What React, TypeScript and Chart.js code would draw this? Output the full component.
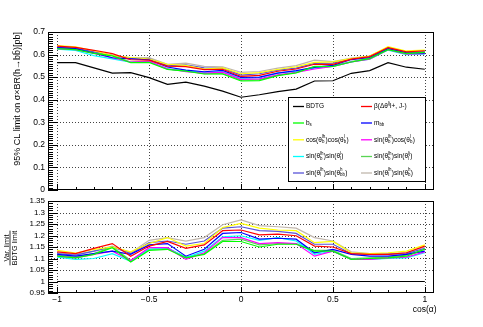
import React, { useEffect, useRef } from "react";
import { Chart, registerables } from "chart.js";
Chart.register(...registerables);

const FONT = '"Liberation Sans", Arial, sans-serif';

const cosAlpha = [-1, -0.9, -0.8, -0.7, -0.6, -0.5, -0.4, -0.3, -0.2, -0.1, 0, 0.1, 0.2, 0.3, 0.4, 0.5, 0.6, 0.7, 0.8, 0.9, 1];

// Top panel: 95% CL limit [pb]
const limitBDTG = [0.564, 0.564, 0.541, 0.518, 0.520, 0.498, 0.468, 0.478, 0.460, 0.438, 0.411, 0.422, 0.436, 0.447, 0.483, 0.484, 0.517, 0.529, 0.564, 0.544, 0.535];
const limitBeta = [0.637, 0.632, 0.619, 0.604, 0.577, 0.575, 0.549, 0.547, 0.533, 0.535, 0.503, 0.508, 0.526, 0.536, 0.557, 0.557, 0.580, 0.591, 0.631, 0.612, 0.617];
const limitBs = [0.626, 0.622, 0.605, 0.594, 0.564, 0.565, 0.534, 0.527, 0.514, 0.514, 0.483, 0.485, 0.507, 0.519, 0.547, 0.548, 0.567, 0.582, 0.622, 0.604, 0.610];
const limitMbb = [0.631, 0.626, 0.607, 0.586, 0.581, 0.577, 0.545, 0.531, 0.524, 0.530, 0.499, 0.500, 0.518, 0.529, 0.543, 0.552, 0.578, 0.587, 0.626, 0.608, 0.606];
const limitCosCos = [0.640, 0.634, 0.617, 0.596, 0.587, 0.580, 0.557, 0.552, 0.536, 0.541, 0.515, 0.520, 0.534, 0.546, 0.565, 0.568, 0.582, 0.593, 0.635, 0.616, 0.620];
const limitSinCos = [0.626, 0.622, 0.605, 0.586, 0.567, 0.571, 0.537, 0.524, 0.518, 0.522, 0.490, 0.492, 0.510, 0.521, 0.536, 0.548, 0.567, 0.580, 0.622, 0.602, 0.604];
const limitSinSinA = [0.624, 0.618, 0.595, 0.581, 0.566, 0.568, 0.537, 0.527, 0.521, 0.523, 0.493, 0.498, 0.519, 0.526, 0.540, 0.548, 0.567, 0.580, 0.620, 0.600, 0.602];
const limitSinSinB = [0.629, 0.624, 0.607, 0.596, 0.567, 0.568, 0.535, 0.529, 0.516, 0.516, 0.487, 0.489, 0.508, 0.521, 0.548, 0.549, 0.569, 0.584, 0.624, 0.607, 0.610];
const limitSinSinC = [0.632, 0.629, 0.612, 0.596, 0.583, 0.582, 0.550, 0.555, 0.541, 0.540, 0.509, 0.515, 0.531, 0.540, 0.561, 0.562, 0.580, 0.591, 0.631, 0.610, 0.612];
const limitSinSinD = [0.635, 0.631, 0.612, 0.598, 0.585, 0.587, 0.557, 0.562, 0.548, 0.546, 0.521, 0.525, 0.540, 0.551, 0.575, 0.569, 0.584, 0.593, 0.632, 0.612, 0.615];

// Bottom panel: Var. limit / BDTG limit
const ratioBDTG = [1, 1, 1, 1, 1, 1, 1, 1, 1, 1, 1, 1, 1, 1, 1, 1, 1, 1, 1, 1, 1];
const ratioBeta = [1.129, 1.121, 1.144, 1.165, 1.110, 1.154, 1.174, 1.144, 1.159, 1.221, 1.224, 1.203, 1.206, 1.199, 1.154, 1.150, 1.121, 1.118, 1.118, 1.125, 1.154];
const ratioBs = [1.110, 1.103, 1.118, 1.147, 1.085, 1.135, 1.140, 1.103, 1.118, 1.174, 1.174, 1.150, 1.162, 1.162, 1.132, 1.132, 1.096, 1.100, 1.103, 1.110, 1.140];
const ratioMbb = [1.118, 1.110, 1.121, 1.132, 1.118, 1.159, 1.165, 1.110, 1.140, 1.209, 1.213, 1.184, 1.188, 1.184, 1.125, 1.140, 1.118, 1.110, 1.110, 1.118, 1.132];
const ratioCosCos = [1.135, 1.124, 1.140, 1.150, 1.129, 1.165, 1.191, 1.154, 1.165, 1.235, 1.253, 1.232, 1.224, 1.221, 1.169, 1.174, 1.125, 1.121, 1.125, 1.132, 1.159];
const ratioSinCos = [1.110, 1.103, 1.118, 1.132, 1.091, 1.147, 1.147, 1.096, 1.125, 1.191, 1.191, 1.165, 1.169, 1.165, 1.110, 1.132, 1.096, 1.096, 1.103, 1.106, 1.129];
const ratioSinSinA = [1.106, 1.096, 1.100, 1.121, 1.088, 1.140, 1.147, 1.103, 1.132, 1.194, 1.199, 1.179, 1.191, 1.176, 1.118, 1.132, 1.096, 1.096, 1.100, 1.103, 1.125];
const ratioSinSinB = [1.115, 1.106, 1.121, 1.150, 1.091, 1.140, 1.144, 1.106, 1.121, 1.179, 1.184, 1.159, 1.165, 1.165, 1.135, 1.135, 1.100, 1.103, 1.106, 1.115, 1.140];
const ratioSinSinC = [1.121, 1.115, 1.132, 1.150, 1.121, 1.169, 1.176, 1.162, 1.176, 1.232, 1.238, 1.221, 1.218, 1.209, 1.162, 1.162, 1.121, 1.118, 1.118, 1.121, 1.144];
const ratioSinSinD = [1.125, 1.118, 1.132, 1.154, 1.125, 1.179, 1.191, 1.176, 1.191, 1.247, 1.268, 1.243, 1.238, 1.232, 1.191, 1.176, 1.129, 1.121, 1.121, 1.125, 1.150];

const seriesLabels = [
  "BDTG",
  "β(Δθ^{lj}l+, J-)",
  "b_{s}",
  "m_{bb}",
  "cos(θ_{b}^{lh})cos(θ_{b}^{l})",
  "sin(θ_{b}^{lh})cos(θ_{b}^{l})",
  "sin(θ_{b}^{lh})sin(θ_{l}^{l})",
  "sin(θ_{b}^{lh})sin(θ_{l}^{lj})",
  "sin(θ_{l}^{lh})sin(θ_{bb}^{h})",
  "sin(θ_{l}^{lh})sin(θ_{b}^{h})",
];
const seriesColors = ["#000000", "#ff0000", "#00ff00", "#0000ff", "#ffff00", "#ff00ff", "#00ffff", "#59d454", "#5954d8", "#c0b6ac"];
const topSeries = [limitBDTG, limitBeta, limitBs, limitMbb, limitCosCos, limitSinCos, limitSinSinA, limitSinSinB, limitSinSinC, limitSinSinD];
const bottomSeries = [ratioBDTG, ratioBeta, ratioBs, ratioMbb, ratioCosCos, ratioSinCos, ratioSinSinA, ratioSinSinB, ratioSinSinC, ratioSinSinD];

const xTickValues = [-1, -0.5, 0, 0.5, 1];
const xTickLabels = ["\u22121", "\u22120.5", "0", "0.5", "1"];
const topYTickValues = [0, 0.1, 0.2, 0.3, 0.4, 0.5, 0.6, 0.7];
const topYTickLabels = ["0", "0.1", "0.2", "0.3", "0.4", "0.5", "0.6", "0.7"];
const botYTickValues = [0.95, 1, 1.05, 1.1, 1.15, 1.2, 1.25, 1.3, 1.35];
const botYTickLabels = ["0.95", "1", "1.05", "1.1", "1.15", "1.2", "1.25", "1.3", "1.35"];

function drawRich(ctx: CanvasRenderingContext2D, text: string, x: number, y: number, size: number) {
  const tokens: { t: string; k: string }[] = [];
  let i = 0;
  let buf = "";
  while (i < text.length) {
    const c = text[i];
    if ((c === "^" || c === "_") && text[i + 1] === "{") {
      if (buf) { tokens.push({ t: buf, k: "n" }); buf = ""; }
      const end = text.indexOf("}", i + 2);
      tokens.push({ t: text.slice(i + 2, end), k: c === "^" ? "sup" : "sub" });
      i = end + 1;
    } else { buf += c; i++; }
  }
  if (buf) tokens.push({ t: buf, k: "n" });
  let cx = x;
  for (let j = 0; j < tokens.length; j++) {
    const tk = tokens[j];
    if (tk.k === "n") {
      ctx.font = `${size}px ${FONT}`;
      ctx.fillText(tk.t, cx, y);
      cx += ctx.measureText(tk.t).width;
    } else {
      ctx.font = `${size * 0.68}px ${FONT}`;
      let w = 0;
      const draw = (t: { t: string; k: string }) => {
        const dy = t.k === "sup" ? -size * 0.42 : size * 0.32;
        ctx.fillText(t.t, cx, y + dy);
        w = Math.max(w, ctx.measureText(t.t).width);
      };
      draw(tk);
      const nx = tokens[j + 1];
      if (nx && nx.k !== "n" && nx.k !== tk.k) { draw(nx); j++; }
      cx += w + 0.3;
    }
  }
}

function framePlugin(cfg: { yMin: number; yMax: number; yMinorStep: number; yGrid: number[]; yLen: number; xLen: number }) {
  return {
    id: "rootFrame",
    beforeDatasetsDraw(chart: any) {
      const { ctx, chartArea: a, scales } = chart;
      const xs = scales.x, ys = scales.y;
      ctx.save();
      ctx.strokeStyle = "#444";
      ctx.lineWidth = 1;
      ctx.setLineDash([1, 2]);
      for (const v of xTickValues) {
        const px = Math.round(xs.getPixelForValue(v)) + 0.5;
        ctx.beginPath(); ctx.moveTo(px, a.top); ctx.lineTo(px, a.bottom); ctx.stroke();
      }
      for (const v of cfg.yGrid) {
        const py = Math.round(ys.getPixelForValue(v)) + 0.5;
        ctx.beginPath(); ctx.moveTo(a.left, py); ctx.lineTo(a.right, py); ctx.stroke();
      }
      ctx.restore();
    },
    afterDatasetsDraw(chart: any) {
      const { ctx, chartArea: a, scales } = chart;
      const xs = scales.x, ys = scales.y;
      ctx.save();
      ctx.strokeStyle = "#000";
      ctx.lineWidth = 1;
      ctx.setLineDash([]);
      ctx.strokeRect(a.left + 0.5, a.top + 0.5, a.right - a.left - 1, a.bottom - a.top - 1);
      const nMinor = Math.round((cfg.yMax - cfg.yMin) / cfg.yMinorStep);
      const majorEvery = Math.round((ys.ticks[1].value - ys.ticks[0].value) / cfg.yMinorStep);
      ctx.beginPath();
      for (let k = 0; k <= nMinor; k++) {
        const v = cfg.yMin + k * cfg.yMinorStep;
        const py = Math.round(ys.getPixelForValue(v)) + 0.5;
        const len = k % majorEvery === 0 ? cfg.yLen : cfg.yLen / 2;
        ctx.moveTo(a.left, py); ctx.lineTo(a.left + len, py);
      }
      for (let k = -10; k <= 10; k++) {
        const v = k / 10;
        const px = Math.round(xs.getPixelForValue(v)) + 0.5;
        const len = k % 5 === 0 ? cfg.xLen : cfg.xLen / 2;
        ctx.moveTo(px, a.bottom); ctx.lineTo(px, a.bottom - len);
      }
      ctx.stroke();
      ctx.restore();
    },
  };
}

const legendPlugin = {
  id: "rootLegend",
  afterDraw(chart: any) {
    const ctx = chart.ctx as CanvasRenderingContext2D;
    ctx.save();
    ctx.fillStyle = "#fff";
    ctx.fillRect(288, 97, 137, 84);
    ctx.strokeStyle = "#000";
    ctx.lineWidth = 1;
    ctx.strokeRect(288.5, 97.5, 137, 84);
    const rows = [106.5, 123, 139.8, 156.5, 173];
    const cols = [{ l0: 293, l1: 304, t: 306 }, { l0: 361, l1: 372, t: 374 }];
    ctx.textBaseline = "middle";
    ctx.textAlign = "left";
    for (let s = 0; s < seriesLabels.length; s++) {
      const r = rows[Math.floor(s / 2)];
      const c = cols[s % 2];
      ctx.strokeStyle = seriesColors[s];
      ctx.lineWidth = 1.3;
      ctx.beginPath(); ctx.moveTo(c.l0, r); ctx.lineTo(c.l1, r); ctx.stroke();
      ctx.fillStyle = "#000";
      drawRich(ctx, seriesLabels[s], c.t, r, 6.5);
    }
    ctx.restore();
  },
};

const topTitlePlugin = {
  id: "topTitle",
  afterDraw(chart: any) {
    const ctx = chart.ctx as CanvasRenderingContext2D;
    ctx.save();
    ctx.translate(19.5, 32);
    ctx.rotate(-Math.PI / 2);
    ctx.fillStyle = "#000";
    ctx.font = `9px ${FONT}`;
    ctx.textAlign = "right";
    ctx.textBaseline = "alphabetic";
    ctx.fillText("95% CL limit on σ×BR(h→bb\u0304)[pb]", 0, 0);
    ctx.restore();
  },
};

const bottomTitlePlugin = {
  id: "bottomTitle",
  afterDraw(chart: any) {
    const ctx = chart.ctx as CanvasRenderingContext2D;
    const off = 186;
    ctx.save();
    ctx.translate(10, 248 - off);
    ctx.rotate(-Math.PI / 2);
    ctx.fillStyle = "#000";
    ctx.font = `7.2px ${FONT}`;
    ctx.textAlign = "center";
    ctx.textBaseline = "alphabetic";
    ctx.fillText("Var. limit", 0, -1);
    ctx.textBaseline = "top";
    ctx.fillText("BDTG limit", 0, 1);
    const w = Math.max(ctx.measureText("Var. limit").width, ctx.measureText("BDTG limit").width);
    ctx.strokeStyle = "#000";
    ctx.lineWidth = 0.8;
    ctx.beginPath(); ctx.moveTo(-w / 2, 0); ctx.lineTo(w / 2, 0); ctx.stroke();
    ctx.restore();
    ctx.save();
    ctx.fillStyle = "#000";
    ctx.font = `8.5px ${FONT}`;
    ctx.textAlign = "right";
    ctx.textBaseline = "alphabetic";
    ctx.fillText("cos(α)", 436.5, 312 - off);
    ctx.restore();
  },
};

function makeDatasets(series: number[][]) {
  return series.map((vals, s) => ({
    label: seriesLabels[s].replace(/[\^_]\{([^}]*)\}/g, "$1"),
    data: cosAlpha.map((x, i) => ({ x, y: vals[i] })),
    borderColor: seriesColors[s],
    backgroundColor: seriesColors[s],
    borderWidth: 1.2,
    pointRadius: 0,
    tension: 0,
    fill: false,
  }));
}

export default function App() {
  const topRef = useRef<HTMLCanvasElement>(null);
  const botRef = useRef<HTMLCanvasElement>(null);

  useEffect(() => {
    Chart.defaults.font.family = FONT;
    Chart.defaults.color = "#000";
    const common = (yVals: number[], yLabels: string[], yMin: number, yMax: number, yFont: number, showX: boolean, xHeight: number, padTop: number) => ({
      responsive: false,
      animation: false as const,
      devicePixelRatio: 1,
      layout: { padding: { top: padTop, left: 0, right: 49, bottom: 0 } },
      plugins: { legend: { display: false }, tooltip: { enabled: false }, title: { display: false } },
      scales: {
        x: {
          type: "linear" as const,
          min: -1.05,
          max: 1.05,
          grid: { display: false, drawTicks: false },
          border: { display: false },
          afterBuildTicks: (s: any) => { s.ticks = xTickValues.map((v) => ({ value: v })); },
          afterFit: (s: any) => { s.height = xHeight; },
          ticks: {
            display: showX,
            autoSkip: false,
            maxRotation: 0,
            padding: 2,
            color: "#000",
            font: { size: 8.5, family: FONT },
            callback: (_v: any, i: number) => xTickLabels[i],
          },
        },
        y: {
          type: "linear" as const,
          min: yMin,
          max: yMax,
          grid: { display: false, drawTicks: false },
          border: { display: false },
          afterBuildTicks: (s: any) => { s.ticks = yVals.map((v) => ({ value: v })); },
          afterFit: (s: any) => { s.width = 48; },
          ticks: {
            autoSkip: false,
            padding: 3,
            color: "#000",
            font: { size: yFont, family: FONT },
            callback: (_v: any, i: number) => yLabels[i],
          },
        },
      },
    });

    const top = new Chart(topRef.current!, {
      type: "line",
      data: { datasets: makeDatasets(topSeries) as any },
      options: common(topYTickValues, topYTickLabels, 0, 0.7, 8.5, false, 10, 32) as any,
      plugins: [framePlugin({ yMin: 0, yMax: 0.7, yMinorStep: 0.01, yGrid: [0.1, 0.2, 0.3, 0.4, 0.5, 0.6], yLen: 10, xLen: 6 }), legendPlugin, topTitlePlugin],
    });
    const bot = new Chart(botRef.current!, {
      type: "line",
      data: { datasets: makeDatasets(bottomSeries) as any },
      options: common(botYTickValues, botYTickLabels, 0.95, 1.35, 8, true, 34, 15) as any,
      plugins: [framePlugin({ yMin: 0.95, yMax: 1.35, yMinorStep: 0.01, yGrid: [1.05, 1.1, 1.15, 1.2, 1.25, 1.3], yLen: 10, xLen: 6 }), bottomTitlePlugin],
    });
    return () => { top.destroy(); bot.destroy(); };
  }, []);

  return (
    <div style={{ position: "fixed", left: 0, top: 0, width: 483, height: 327, background: "#fff" }}>
      <canvas ref={topRef} width={483} height={200} style={{ position: "absolute", left: 0, top: 0, width: 483, height: 200 }} />
      <canvas ref={botRef} width={483} height={141} style={{ position: "absolute", left: 0, top: 186, width: 483, height: 141 }} />
    </div>
  );
}
